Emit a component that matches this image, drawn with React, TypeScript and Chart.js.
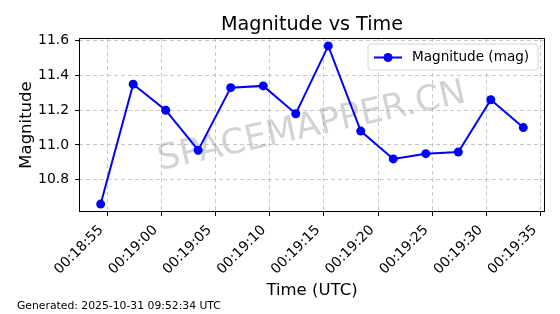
import React, { useEffect, useRef } from "react";
import { Chart, registerables } from "chart.js";

Chart.register(...registerables);

// seconds since midnight (UTC)
const timesSec = [1134.4, 1137.4, 1140.4, 1143.4, 1146.4, 1149.4, 1152.4, 1155.4, 1158.4, 1161.4, 1164.4, 1167.4, 1170.4, 1173.4];
const magnitudes = [10.66, 11.35, 11.2, 10.97, 11.33, 11.34, 11.18, 11.57, 11.08, 10.92, 10.95, 10.96, 11.26, 11.1];
const xTickValues = [1135, 1140, 1145, 1150, 1155, 1160, 1165, 1170, 1175];
const xTickLabels = ["00:18:55", "00:19:00", "00:19:05", "00:19:10", "00:19:15", "00:19:20", "00:19:25", "00:19:30", "00:19:35"];
const yTickValues = [10.8, 11.0, 11.2, 11.4, 11.6];
const seriesLabel = "Magnitude (mag)";
const titleText = "Magnitude vs Time";
const xTitle = "Time (UTC)";
const yTitle = "Magnitude";
const footerText = "Generated: 2025-10-31 09:52:34 UTC";
const watermarkText = "SPACEMAPPER.CN";

const FONT = "'DejaVu Sans', sans-serif";

const decorPlugin = {
  id: "decor",
  beforeDatasetsDraw(chart: any) {
    const { ctx, chartArea } = chart;
    ctx.save();
    ctx.beginPath();
    ctx.rect(chartArea.left, chartArea.top, chartArea.right - chartArea.left, chartArea.bottom - chartArea.top);
    ctx.clip();
    ctx.translate(312, 127);
    ctx.rotate((-12.5 * Math.PI) / 180);
    ctx.font = `35px ${FONT}`;
    ctx.fillStyle = "rgba(128,128,128,0.35)";
    ctx.textAlign = "center";
    ctx.textBaseline = "middle";
    ctx.fillText(watermarkText, 0, 0);
    ctx.restore();
  },
  afterDraw(chart: any) {
    const { ctx, chartArea } = chart;
    const { left, right, top, bottom } = chartArea;
    ctx.save();
    // frame
    ctx.strokeStyle = "#000";
    ctx.lineWidth = 1;
    ctx.strokeRect(left + 0.5, top + 0.5, right - left - 1, bottom - top - 1);

    // legend
    const lx = 368, ly = 44, lw = 170, lh = 26, r = 3;
    ctx.beginPath();
    ctx.moveTo(lx + r, ly);
    ctx.lineTo(lx + lw - r, ly);
    ctx.quadraticCurveTo(lx + lw, ly, lx + lw, ly + r);
    ctx.lineTo(lx + lw, ly + lh - r);
    ctx.quadraticCurveTo(lx + lw, ly + lh, lx + lw - r, ly + lh);
    ctx.lineTo(lx + r, ly + lh);
    ctx.quadraticCurveTo(lx, ly + lh, lx, ly + lh - r);
    ctx.lineTo(lx, ly + r);
    ctx.quadraticCurveTo(lx, ly, lx + r, ly);
    ctx.closePath();
    ctx.fillStyle = "rgba(255,255,255,0.8)";
    ctx.fill();
    ctx.strokeStyle = "#d6d6d6";
    ctx.lineWidth = 1;
    ctx.stroke();
    ctx.strokeStyle = "#0000ff";
    ctx.lineWidth = 2;
    ctx.beginPath();
    ctx.moveTo(374, 57.5);
    ctx.lineTo(402, 57.5);
    ctx.stroke();
    ctx.fillStyle = "#0000ff";
    ctx.beginPath();
    ctx.arc(388, 57.5, 4.5, 0, Math.PI * 2);
    ctx.fill();
    ctx.fillStyle = "#000";
    ctx.font = `13.6px ${FONT}`;
    ctx.textAlign = "left";
    ctx.textBaseline = "middle";
    ctx.fillText(seriesLabel, 412, 57.5);

    // title
    ctx.font = `19.2px ${FONT}`;
    ctx.textAlign = "center";
    ctx.textBaseline = "alphabetic";
    ctx.fillText(titleText, (left + right) / 2, 30);

    // x title
    ctx.font = `16.5px ${FONT}`;
    ctx.fillText(xTitle, (left + right) / 2, 295);

    // y title
    ctx.save();
    ctx.translate(31, (top + bottom) / 2);
    ctx.rotate(-Math.PI / 2);
    ctx.textAlign = "center";
    ctx.fillText(yTitle, 0, 0);
    ctx.restore();

    // footer
    ctx.font = `10.8px ${FONT}`;
    ctx.textAlign = "left";
    ctx.fillText(footerText, 17, 309);
    ctx.restore();
  },
};

export default function App() {
  const ref = useRef<HTMLCanvasElement | null>(null);
  useEffect(() => {
    document.body.style.margin = "0";
    const canvas = ref.current;
    if (!canvas) return;
    const chart = new Chart(canvas, {
      type: "line",
      data: {
        datasets: [
          {
            label: seriesLabel,
            data: timesSec.map((t, i) => ({ x: t, y: magnitudes[i] })),
            borderColor: "#0000ff",
            backgroundColor: "#0000ff",
            borderWidth: 2,
            pointRadius: 4.5,
            pointHoverRadius: 4.5,
            pointBorderWidth: 0,
            tension: 0,
          },
        ],
      },
      options: {
        animation: false,
        responsive: false,
        events: [],
        layout: { padding: { left: 0, right: 15, top: 38, bottom: 0 } },
        plugins: { legend: { display: false }, tooltip: { enabled: false }, title: { display: false } },
        scales: {
          x: {
            type: "linear",
            min: 1132.4,
            max: 1175.4,
            afterBuildTicks: (scale: any) => {
              scale.ticks = xTickValues.map((v) => ({ value: v }));
            },
            afterFit: (scale: any) => {
              scale.height = 102;
              scale.paddingLeft = 0;
              scale.paddingRight = 0;
            },
            ticks: {
              autoSkip: false,
              maxRotation: 45,
              minRotation: 45,
              padding: 6,
              labelOffset: -6,
              color: "#000",
              font: { family: FONT, size: 13.9 },
              callback: (v: any) => {
                const i = xTickValues.indexOf(Number(v));
                return i >= 0 ? xTickLabels[i] : "";
              },
            },
            grid: {
              color: "rgba(176,176,176,0.7)",
              lineWidth: 1,
              tickLength: 4,
              tickColor: "#000",
              tickBorderDash: [],
            } as any,
            border: { display: false, dash: [4, 3] } as any,
          },
          y: {
            type: "linear",
            min: 10.6145,
            max: 11.6155,
            afterBuildTicks: (scale: any) => {
              scale.ticks = yTickValues.map((v) => ({ value: v }));
            },
            afterFit: (scale: any) => {
              scale.width = 79;
              scale.paddingTop = 0;
              scale.paddingBottom = 0;
            },
            ticks: {
              padding: 6,
              color: "#000",
              font: { family: FONT, size: 13.9 },
              callback: (v: any) => Number(v).toFixed(1),
            },
            grid: {
              color: "rgba(176,176,176,0.7)",
              lineWidth: 1,
              tickLength: 4,
              tickColor: "#000",
              tickBorderDash: [],
            } as any,
            border: { display: false, dash: [4, 3] } as any,
          },
        },
      },
      plugins: [decorPlugin],
    });
    return () => chart.destroy();
  }, []);
  return (
    <div style={{ position: "absolute", left: 0, top: 0, width: 560, height: 314 }}>
      <canvas ref={ref} width={560} height={314} style={{ display: "block", width: 560, height: 314 }} />
    </div>
  );
}
